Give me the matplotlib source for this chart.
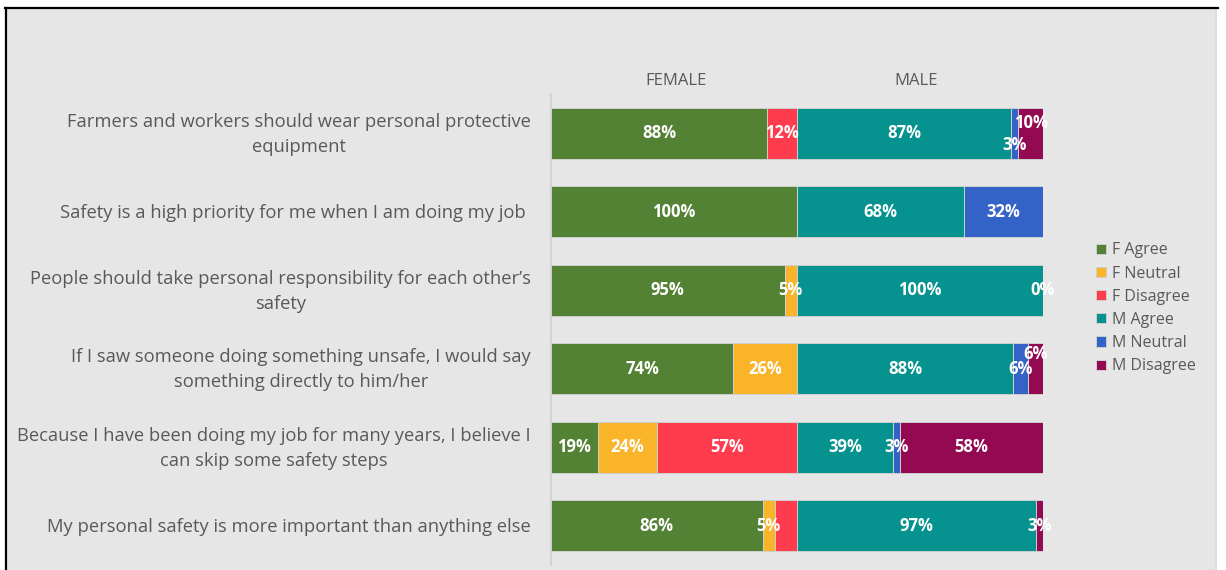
import matplotlib
matplotlib.use("Agg")
import matplotlib.pyplot as plt
from matplotlib.patches import Rectangle
from matplotlib.lines import Line2D

plt.rcParams['font.family'] = ['Open Sans', 'DejaVu Sans']

categories = [
    "Farmers and workers should wear personal protective\nequipment",
    "Safety is a high priority for me when I am doing my job ",
    "People should take personal responsibility for each other\u2019s\nsafety",
    "If I saw someone doing something unsafe, I would say\nsomething directly to him/her",
    "Because I have been doing my job for many years, I believe I\ncan skip some safety steps",
    "My personal safety is more important than anything else",
]

f_agree    = [88, 100, 95, 74, 19, 86]
f_neutral  = [0, 0, 5, 26, 24, 5]
f_disagree = [12, 0, 0, 0, 57, 9]
m_agree    = [87, 68, 100, 88, 39, 97]
m_neutral  = [3, 32, 0, 6, 3, 0]
m_disagree = [10, 0, 0, 6, 58, 3]

series_names = ["F Agree", "F Neutral", "F Disagree", "M Agree", "M Neutral", "M Disagree"]
series_vals = [f_agree, f_neutral, f_disagree, m_agree, m_neutral, m_disagree]
colors = ["#548235", "#F9B42A", "#FF3C4E", "#06938F", "#3463C8", "#930A52"]

# label display tweaks (series index, row index)
hidden_labels = {(2, 5)}
zero_labels_shown = {(5, 2)}
label_offsets = {(5, 0): 7.2, (4, 0): -8.6, (5, 3): 10.5}

W, H = 1226, 570
fig = plt.figure(figsize=(W / 100, H / 100), dpi=100, facecolor="white")

# panel background and frame
fig.patches.append(Rectangle((7 / W, 0), (1217 - 7) / W, (H - 9) / H,
                             transform=fig.transFigure, facecolor="#E6E6E6",
                             edgecolor="none", zorder=-10))
fig.patches.append(Rectangle((1215 / W, 0), 2 / W, (H - 9) / H,
                             transform=fig.transFigure, facecolor="#DCDCDC",
                             edgecolor="none", zorder=-10))
fig.lines.append(Line2D([5 / W, 1218 / W], [(H - 8) / H, (H - 8) / H],
                        transform=fig.transFigure, color="black", lw=1.6, zorder=-5))
fig.lines.append(Line2D([6 / W, 6 / W], [0, (H - 8) / H],
                        transform=fig.transFigure, color="black", lw=1.6, zorder=-5))

ax = fig.add_axes([551 / W, (H - 565) / H, (1043 - 551) / W, (565 - 94) / H])
ax.set_zorder(5)
ax.set_facecolor("none")
ax.patch.set_alpha(0)

n = len(categories)
ypos = list(range(n))
left = [0.0] * n
handles = []
for si, (name, vals, col) in enumerate(zip(series_names, series_vals, colors)):
    widths = [v / 100.0 for v in vals]
    if si == 3:
        left = [1.0] * n
    bars = ax.barh(ypos, widths, left=left, height=0.645, color=col,
                   edgecolor="#CFCFCF", linewidth=0.7, label=name, zorder=2)
    handles.append(bars)
    for ri in range(n):
        v = vals[ri]
        if (si, ri) in hidden_labels:
            continue
        if v == 0 and (si, ri) not in zero_labels_shown:
            continue
        cx = left[ri] + widths[ri] / 2
        dy = label_offsets.get((si, ri), 0)
        ax.annotate(f"{v}%", (cx, ri), xytext=(0, dy), textcoords="offset points",
                    ha="center", va="center", color="white", fontsize=12,
                    fontweight="bold", zorder=3)
    left = [l + w for l, w in zip(left, widths)]

ax.set_xlim(0, 2)
ax.set_ylim(n - 0.5, -0.5)
ax.set_xticks([])
ax.set_yticks(ypos)
ax.set_yticklabels([])
ax.tick_params(axis="y", length=0)

# category labels: right-aligned block, centred lines
ytrans = ax.get_yaxis_transform()
for ri, cat in enumerate(categories):
    ax.annotate(cat, (0, ri), xycoords=ytrans, xytext=(-14.4, -0.6),
                textcoords="offset points", ha="right", va="center",
                multialignment="center", fontsize=13.22, color="#595959",
                linespacing=1.5, annotation_clip=False)

for s in ["top", "right", "bottom"]:
    ax.spines[s].set_visible(False)
ax.spines["left"].set_color("#D0D0D0")
ax.spines["left"].set_linewidth(1.2)

ax.text(0.51, -0.67, "FEMALE", ha="center", va="center", fontsize=12, color="#595959")
ax.text(1.485, -0.67, "MALE", ha="center", va="center", fontsize=12, color="#595959")

leg = fig.legend(handles=handles, labels=series_names, loc="upper left",
                 bbox_to_anchor=(1090 / W, (H - 236) / H), frameon=False,
                 fontsize=11.5, handlelength=0.6, handleheight=0.6,
                 handletextpad=0.4, labelspacing=0.45, borderaxespad=0)
for t in leg.get_texts():
    t.set_color("#595959")

fig.savefig("out.png", dpi=100, facecolor="white")
